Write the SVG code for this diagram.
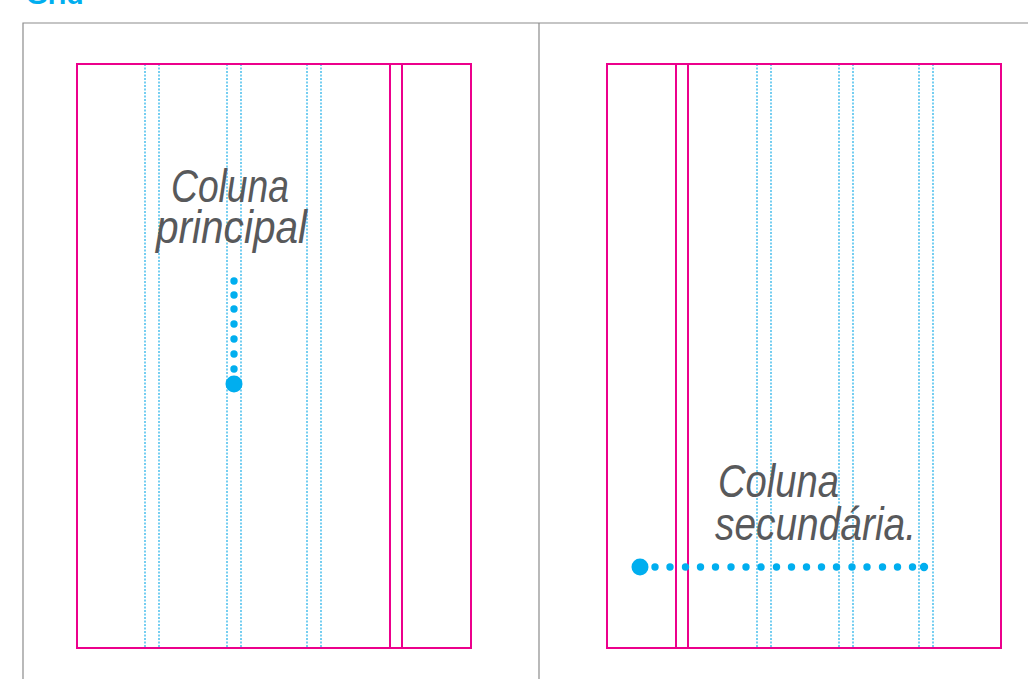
<svg xmlns="http://www.w3.org/2000/svg" width="1028" height="679" viewBox="0 0 1028 679">
<style>
.page{fill:none;stroke:#EC008C;stroke-width:2}
.gut{stroke:#EC008C;stroke-width:2}
.grid{stroke:#1BAEE8;stroke-width:1.2;stroke-dasharray:2 1.5}
.frame{stroke:#8C8C8C;stroke-width:1.2;fill:none}
.lbl{font-family:"Liberation Sans",Arial,sans-serif;font-style:italic;font-size:46px;fill:#58595B}
.d{fill:#00AEEF}
</style>
<rect width="1028" height="679" fill="#fff"/>
<text x="26" y="4" font-family="Liberation Sans,Arial,sans-serif" font-weight="bold" font-size="28" fill="#00AEEF">Grid</text>
<g id="frame">
<path class="frame" d="M23,679 V23 H1028 M539,23 V679"/>
</g>
<g id="page-left">
<line class="grid" x1="145" y1="64" x2="145" y2="648"/>
<line class="grid" x1="159" y1="64" x2="159" y2="648"/>
<line class="grid" x1="227" y1="64" x2="227" y2="648"/>
<line class="grid" x1="241" y1="64" x2="241" y2="648"/>
<line class="grid" x1="307" y1="64" x2="307" y2="648"/>
<line class="grid" x1="321" y1="64" x2="321" y2="648"/>
<rect class="page" x="77" y="64" width="394" height="584"/>
<line class="gut" x1="390" y1="64" x2="390" y2="648"/>
<line class="gut" x1="402" y1="64" x2="402" y2="648"/>
<text class="lbl" x="171" y="202" textLength="118" lengthAdjust="spacingAndGlyphs">Coluna</text>
<text class="lbl" x="156" y="243" textLength="151" lengthAdjust="spacingAndGlyphs">principal</text>
</g>
<g id="page-right">
<line class="grid" x1="757" y1="64" x2="757" y2="648"/>
<line class="grid" x1="771" y1="64" x2="771" y2="648"/>
<line class="grid" x1="839" y1="64" x2="839" y2="648"/>
<line class="grid" x1="853" y1="64" x2="853" y2="648"/>
<line class="grid" x1="919" y1="64" x2="919" y2="648"/>
<line class="grid" x1="933" y1="64" x2="933" y2="648"/>
<rect class="page" x="607" y="64" width="394" height="584"/>
<line class="gut" x1="676" y1="64" x2="676" y2="648"/>
<line class="gut" x1="688" y1="64" x2="688" y2="648"/>
<text class="lbl" x="718" y="497" textLength="121" lengthAdjust="spacingAndGlyphs">Coluna</text>
<text class="lbl" x="715" y="540" textLength="201" lengthAdjust="spacingAndGlyphs">secundária.</text>
</g>
<g id="connectors">
<circle class="d" cx="234" cy="281" r="3.7"/>
<circle class="d" cx="234" cy="295" r="3.7"/>
<circle class="d" cx="234" cy="309" r="3.7"/>
<circle class="d" cx="234" cy="324" r="3.7"/>
<circle class="d" cx="234" cy="339" r="3.7"/>
<circle class="d" cx="234" cy="354" r="3.7"/>
<circle class="d" cx="234" cy="369" r="3.7"/>
<circle class="d" cx="234" cy="384" r="8.5"/>
<circle class="d" cx="640" cy="567" r="8.5"/>
<circle class="d" cx="655" cy="567" r="3.7"/>
<circle class="d" cx="670" cy="567" r="3.7"/>
<circle class="d" cx="685.5" cy="567" r="3.7"/>
<circle class="d" cx="700.5" cy="567" r="3.7"/>
<circle class="d" cx="715.5" cy="567" r="3.7"/>
<circle class="d" cx="731" cy="567" r="3.7"/>
<circle class="d" cx="746" cy="567" r="3.7"/>
<circle class="d" cx="761" cy="567" r="3.7"/>
<circle class="d" cx="776.5" cy="567" r="3.7"/>
<circle class="d" cx="791.5" cy="567" r="3.7"/>
<circle class="d" cx="806.5" cy="567" r="3.7"/>
<circle class="d" cx="821.5" cy="567" r="3.7"/>
<circle class="d" cx="836.5" cy="567" r="3.7"/>
<circle class="d" cx="852" cy="567" r="3.7"/>
<circle class="d" cx="867" cy="567" r="3.7"/>
<circle class="d" cx="882.5" cy="567" r="3.7"/>
<circle class="d" cx="897.5" cy="567" r="3.7"/>
<circle class="d" cx="912.5" cy="567" r="3.7"/>
<circle class="d" cx="924" cy="567" r="4.2"/>
</g>
</svg>
